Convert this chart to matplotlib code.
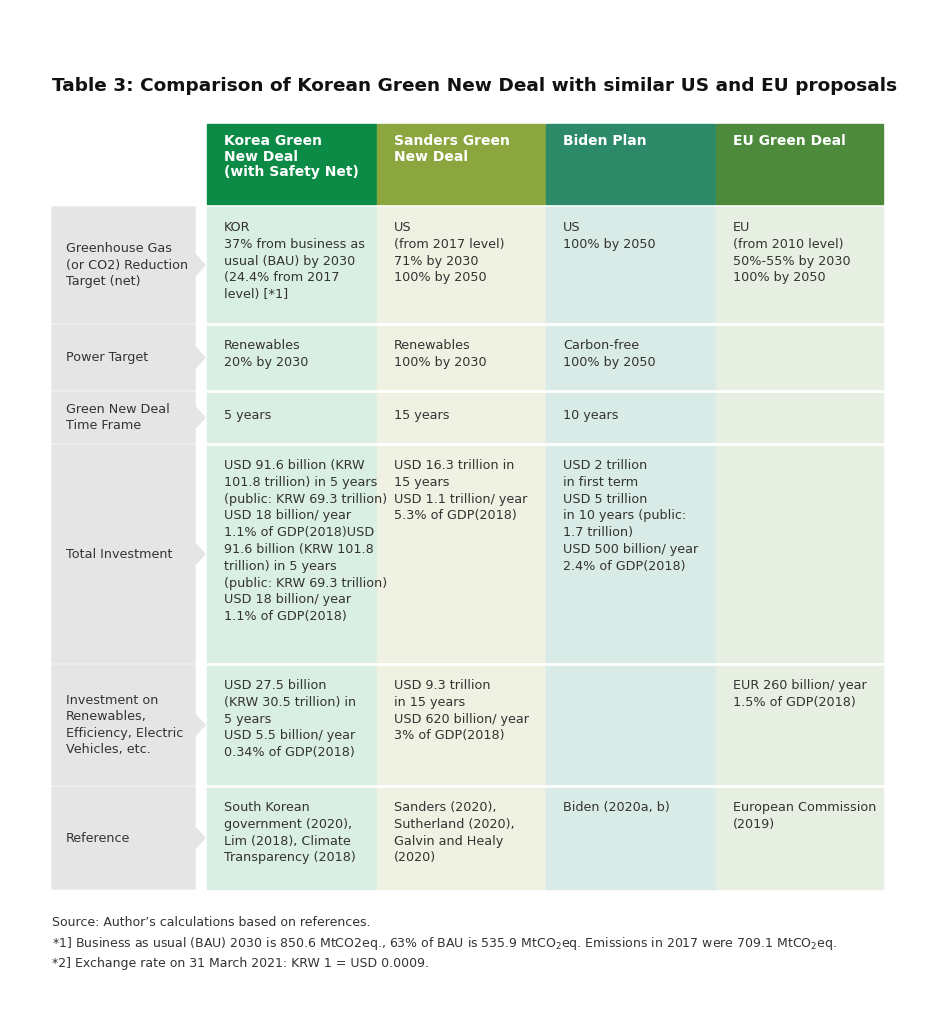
import matplotlib.pyplot as plt
from matplotlib.patches import Rectangle, Polygon

columns = ["Korea Green\nNew Deal\n(with Safety Net)", "Sanders Green\nNew Deal", "Biden Plan", "EU Green Deal"]
row_labels = ["Greenhouse Gas\n(or CO2) Reduction\nTarget (net)", "Power Target", "Green New Deal\nTime Frame",
              "Total Investment", "Investment on\nRenewables,\nEfficiency, Electric\nVehicles, etc.", "Reference"]
korea = ["KOR\n37% from business as\nusual (BAU) by 2030\n(24.4% from 2017\nlevel) [*1]",
         "Renewables\n20% by 2030", "5 years",
         "USD 91.6 billion (KRW\n101.8 trillion) in 5 years\n(public: KRW 69.3 trillion)\nUSD 18 billion/ year\n1.1% of GDP(2018)USD\n91.6 billion (KRW 101.8\ntrillion) in 5 years\n(public: KRW 69.3 trillion)\nUSD 18 billion/ year\n1.1% of GDP(2018)",
         "USD 27.5 billion\n(KRW 30.5 trillion) in\n5 years\nUSD 5.5 billion/ year\n0.34% of GDP(2018)",
         "South Korean\ngovernment (2020),\nLim (2018), Climate\nTransparency (2018)"]
sanders = ["US\n(from 2017 level)\n71% by 2030\n100% by 2050", "Renewables\n100% by 2030", "15 years",
           "USD 16.3 trillion in\n15 years\nUSD 1.1 trillion/ year\n5.3% of GDP(2018)",
           "USD 9.3 trillion\nin 15 years\nUSD 620 billion/ year\n3% of GDP(2018)",
           "Sanders (2020),\nSutherland (2020),\nGalvin and Healy\n(2020)"]
biden = ["US\n100% by 2050", "Carbon-free\n100% by 2050", "10 years",
         "USD 2 trillion\nin first term\nUSD 5 trillion\nin 10 years (public:\n1.7 trillion)\nUSD 500 billion/ year\n2.4% of GDP(2018)",
         "", "Biden (2020a, b)"]
eu = ["EU\n(from 2010 level)\n50%-55% by 2030\n100% by 2050", "", "", "",
      "EUR 260 billion/ year\n1.5% of GDP(2018)", "European Commission\n(2019)"]
title = "Table 3: Comparison of Korean Green New Deal with similar US and EU proposals"
notes = ["Source: Author\u2019s calculations based on references.",
         "*1] Business as usual (BAU) 2030 is 850.6 MtCO2eq., 63% of BAU is 535.9 MtCO$_2$eq. Emissions in 2017 were 709.1 MtCO$_2$eq.",
         "*2] Exchange rate on 31 March 2021: KRW 1 = USD 0.0009."]

W, H = 945, 1024
fig = plt.figure(figsize=(W/100, H/100), dpi=100)
ax = fig.add_axes([0, 0, 1, 1])
ax.set_xlim(0, W); ax.set_ylim(H, 0); ax.axis("off")

col_x = [207, 377, 546, 716, 884]
head_col = ["#0b8b45", "#8ba63e", "#2d8a69", "#4d8a3c"]
body_col = ["#d9efe3", "#eff1e2", "#d9ebe7", "#e7efe2"]
rows_y = [(207, 323), (325, 390), (392, 443), (445, 663), (665, 785), (787, 889)]
data = [korea, sanders, biden, eu]
fs = 9.2

ax.text(52, 86, title, fontsize=13.3, fontweight="bold", va="center", ha="left", color="#111")

for j in range(4):
    x0, x1 = col_x[j], col_x[j+1]
    ax.add_patch(Rectangle((x0, 124), x1 - x0 - 1, 80, color=head_col[j]))
    ax.text(x0 + 17, 134, columns[j], fontsize=10, fontweight="bold", color="white", va="top", linespacing=1.15)
    ax.add_patch(Rectangle((x0, 207), x1 - x0 - 1, 889 - 207, color=body_col[j]))

for i, (y0, y1) in enumerate(rows_y):
    ym = (y0 + y1) / 2
    ax.add_patch(Polygon([(52, y0), (195, y0), (195, ym - 11), (205, ym), (195, ym + 11), (195, y1), (52, y1)],
                         closed=True, color="#e5e5e6"))
    ax.text(66, ym, row_labels[i], fontsize=fs, va="center", ha="left", color="#333", linespacing=1.35)
    if i > 0:
        ax.plot([207, 884], [y0 - 1, y0 - 1], color="white", lw=2)
    for j in range(4):
        ax.text(col_x[j] + 17, y0 + 14 if i not in (2,) else ym - 8, data[j][i], fontsize=fs, va="top",
                ha="left", color="#333", linespacing=1.38)

for k, n in enumerate(notes):
    ax.text(52, 923 + k * 20, n, fontsize=9, va="center", ha="left", color="#333")

fig.savefig("out.png", dpi=100)
